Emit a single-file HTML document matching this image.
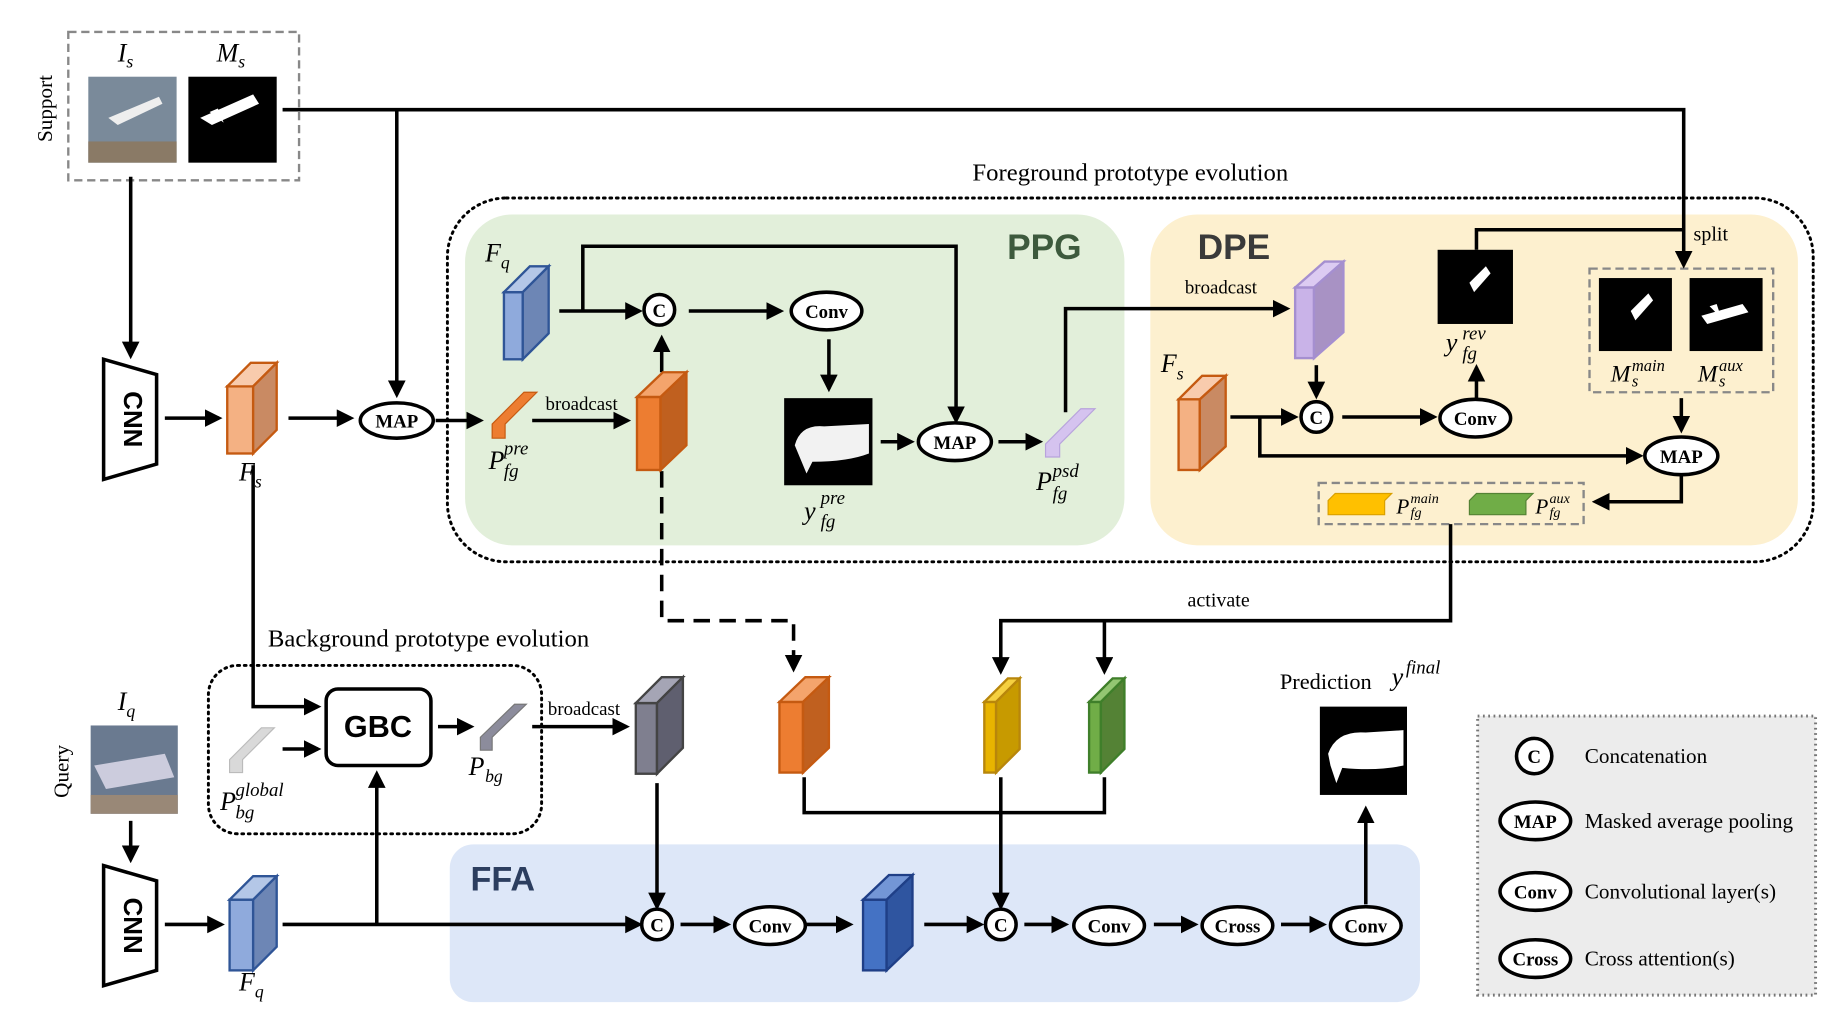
<!DOCTYPE html>
<html><head><meta charset="utf-8"><style>
html,body{margin:0;padding:0;background:#fff;}
svg{display:block;}
text{font-family:"Liberation Serif",serif;}
.b{font-family:"Liberation Sans",sans-serif;font-weight:bold;}
.i{font-style:italic;}
</style></head><body>
<svg width="1845" height="1020" viewBox="0 0 1567 866" xmlns="http://www.w3.org/2000/svg">
<defs>
<marker id="a" markerWidth="5" markerHeight="5" refX="4" refY="2.5" orient="auto" markerUnits="strokeWidth"><path d="M0,0 L5,2.5 L0,5 z" fill="#000"/></marker>
</defs>
<!-- Region boxes -->
<rect x="380" y="168" width="1160" height="309" rx="50" fill="none" stroke="#000" stroke-width="2.5" stroke-dasharray="1.5 4" stroke-linecap="round"/>
<rect x="395" y="182" width="560" height="281" rx="40" fill="#e2efda"/>
<rect x="977" y="182" width="550" height="281" rx="40" fill="#fdf0cf"/>
<rect x="382" y="717" width="824" height="134" rx="20" fill="#dde7f8"/>
<rect x="177" y="565" width="283" height="143" rx="25" fill="none" stroke="#000" stroke-width="2.5" stroke-dasharray="1.5 4" stroke-linecap="round"/>
<rect x="1255" y="608" width="287" height="237" fill="#ececec" stroke="#777" stroke-width="2.5" stroke-dasharray="1.5 3"/>
<rect x="58" y="27" width="196" height="126" fill="none" stroke="#888" stroke-width="2" stroke-dasharray="7 4"/>
<rect x="1350" y="228" width="156" height="105" fill="none" stroke="#888" stroke-width="2" stroke-dasharray="7 4"/>
<rect x="1120" y="410" width="225" height="35" fill="none" stroke="#888" stroke-width="2" stroke-dasharray="7 4"/>

<text x="960" y="153" font-size="21" text-anchor="middle">Foreground prototype evolution</text>
<text x="364" y="549" font-size="21" text-anchor="middle">Background prototype evolution</text>
<text class="b" x="887" y="220" font-size="30" fill="#3d5a3d" text-anchor="middle">PPG</text>
<text class="b" x="1048" y="220" font-size="30" fill="#3a3a3a" text-anchor="middle">DPE</text>
<text class="b" x="427" y="756" font-size="29" fill="#2c3e5f" text-anchor="middle">FFA</text>

<!-- support -->
<text x="44" y="92" font-size="18" text-anchor="middle" transform="rotate(-90 44 92)">Support</text>
<text x="58" y="655" font-size="18" text-anchor="middle" transform="rotate(-90 58 655)">Query</text>
<text class="i" x="100" y="52" font-size="22">I<tspan font-size="15" dy="5">s</tspan></text>
<text class="i" x="184" y="52" font-size="22">M<tspan font-size="15" dy="5">s</tspan></text>
<rect x="75" y="65" width="75" height="73" fill="#7a8a9a"/>
<rect x="75" y="120" width="75" height="18" fill="#8a7a66"/>
<path d="M92,100 L135,82 L138,88 L100,106 z" fill="#eee"/>
<rect x="160" y="65" width="75" height="73" fill="#000"/>
<path d="M170,100 L215,80 L220,88 L180,106 z M178,95 L185,92 L190,104 z" fill="#fff"/>
<rect x="77" y="616" width="74" height="75" fill="#6a7a90"/>
<path d="M80,650 L140,640 L148,660 L90,670 z" fill="#ccd"/>
<rect x="77" y="675" width="74" height="16" fill="#998877"/>

<!-- CNNs -->
<path d="M88,305 L133,318 L133,394 L88,407 z" fill="#fff" stroke="#000" stroke-width="3"/>
<text class="b" x="111" y="356" font-size="22" text-anchor="middle" dominant-baseline="middle" transform="rotate(90 111 356)">CNN</text>
<path d="M88,735 L133,748 L133,824 L88,837 z" fill="#fff" stroke="#000" stroke-width="3"/>
<text class="b" x="111" y="786" font-size="22" text-anchor="middle" dominant-baseline="middle" transform="rotate(90 111 786)">CNN</text>

<!-- connectors -->
<g fill="none" stroke="#000" stroke-width="3">
<path d="M240,93 H1430 V225" marker-end="url(#a)"/>
<path d="M337,93 V335" marker-end="url(#a)"/>
<path d="M111,150 V302" marker-end="url(#a)"/>
<path d="M140,355 H186" marker-end="url(#a)"/>
<path d="M245,355 H298" marker-end="url(#a)"/>
<path d="M370,357 H408" marker-end="url(#a)"/>
<path d="M475,264 H543" marker-end="url(#a)"/>
<path d="M495,264 V209 H812 V357" marker-end="url(#a)"/>
<path d="M585,264 H663" marker-end="url(#a)"/>
<path d="M704,288 V330" marker-end="url(#a)"/>
<path d="M452,357 H533" marker-end="url(#a)"/>
<path d="M562,316 V287" marker-end="url(#a)"/>
<path d="M748,375 H774" marker-end="url(#a)"/>
<path d="M848,375 H883" marker-end="url(#a)"/>
<path d="M905,350 V262 H1093" marker-end="url(#a)"/>
<path d="M1118,310 V336" marker-end="url(#a)"/>
<path d="M1045,354 H1100" marker-end="url(#a)"/>
<path d="M1070,354 V387 H1393" marker-end="url(#a)"/>
<path d="M1140,354 H1218" marker-end="url(#a)"/>
<path d="M1254,338 V312" marker-end="url(#a)"/>
<path d="M1254,212 V195 H1430"/>
<path d="M1428,338 V365" marker-end="url(#a)"/>
<path d="M1428,403 V426 H1355" marker-end="url(#a)"/>
<path d="M1232,445 V527 H850 V570" marker-end="url(#a)"/>
<path d="M938,527 V570" marker-end="url(#a)"/>
<path d="M562,400 V527 H674 V568" stroke-dasharray="14 8" marker-end="url(#a)"/>
<path d="M215,395 V600 H270" marker-end="url(#a)"/>
<path d="M240,636 H270" marker-end="url(#a)"/>
<path d="M372,617 H400" marker-end="url(#a)"/>
<path d="M452,617 H532" marker-end="url(#a)"/>
<path d="M111,697 V730" marker-end="url(#a)"/>
<path d="M140,785 H188" marker-end="url(#a)"/>
<path d="M240,785 H543" marker-end="url(#a)"/>
<path d="M320,785 V657" marker-end="url(#a)"/>
<path d="M558,665 V770" marker-end="url(#a)"/>
<path d="M578,785 H618" marker-end="url(#a)"/>
<path d="M685,785 H722" marker-end="url(#a)"/>
<path d="M785,785 H833" marker-end="url(#a)"/>
<path d="M683,660 V690 H938 V660"/>
<path d="M850,660 V770" marker-end="url(#a)"/>
<path d="M870,785 H905" marker-end="url(#a)"/>
<path d="M980,785 H1015" marker-end="url(#a)"/>
<path d="M1088,785 H1124" marker-end="url(#a)"/>
<path d="M1160,768 V687" marker-end="url(#a)"/>
</g>

<g stroke-width="2">
<g stroke="#c55a11"><rect x="193" y="328" width="22" height="57" fill="#f4b183"/><path d="M193,328 L213,308 L235,308 L215,328 z" fill="#f8cbad"/><path d="M215,328 L235,308 L235,365 L215,385 z" fill="#c98a63"/></g>
<g stroke="#2f5597"><rect x="428" y="248" width="16" height="57" fill="#8faadc"/><path d="M428,248 L450,226 L466,226 L444,248 z" fill="#b4c7e7"/><path d="M444,248 L466,226 L466,283 L444,305 z" fill="#6d86b5"/></g>
<g stroke="#c55a11"><rect x="541" y="337" width="20" height="62" fill="#ed7d31"/><path d="M541,337 L563,316 L583,316 L561,337 z" fill="#f4a46c"/><path d="M561,337 L583,316 L583,378 L561,399 z" fill="#c0601f"/></g>
<g stroke="#a58fd0"><rect x="1100" y="244" width="16" height="60" fill="#c9b3e8"/><path d="M1100,244 L1125,222 L1141,222 L1116,244 z" fill="#dccbf2"/><path d="M1116,244 L1141,222 L1141,282 L1116,304 z" fill="#a892c4"/></g>
<g stroke="#c55a11"><rect x="1001" y="339" width="18" height="60" fill="#f4b183"/><path d="M1001,339 L1021,319 L1041,319 L1019,339 z" fill="#f8cbad"/><path d="M1019,339 L1041,319 L1041,379 L1019,399 z" fill="#c98a63"/></g>
<g stroke="#444"><rect x="540" y="597" width="18" height="60" fill="#7f7f8f"/><path d="M540,597 L562,575 L580,575 L558,597 z" fill="#a5a5b5"/><path d="M558,597 L580,575 L580,635 L558,657 z" fill="#5f5f6f"/></g>
<g stroke="#2f5597"><rect x="195" y="764" width="20" height="60" fill="#8faadc"/><path d="M195,764 L215,744 L235,744 L215,764 z" fill="#b4c7e7"/><path d="M215,764 L235,744 L235,804 L215,824 z" fill="#6d86b5"/></g>
<g stroke="#1f3f87"><rect x="733" y="764" width="20" height="60" fill="#4472c4"/><path d="M733,764 L755,743 L775,743 L753,764 z" fill="#7396d6"/><path d="M753,764 L775,743 L775,803 L753,824 z" fill="#2f55a0"/></g>
<g stroke="#c55a11"><rect x="662" y="596" width="20" height="60" fill="#ed7d31"/><path d="M662,596 L684,575 L704,575 L682,596 z" fill="#f4a46c"/><path d="M682,596 L704,575 L704,635 L682,656 z" fill="#c0601f"/></g>
<g stroke="#b8860b"><rect x="836" y="596" width="10" height="60" fill="#e8b400"/><path d="M836,596 L856,576 L866,576 L846,596 z" fill="#f5d040"/><path d="M846,596 L866,576 L866,636 L846,656 z" fill="#c79a00"/></g>
<g stroke="#3f7f2a"><rect x="925" y="596" width="10" height="60" fill="#70ad47"/><path d="M925,596 L945,576 L955,576 L935,596 z" fill="#93c572"/><path d="M935,596 L955,576 L955,636 L935,656 z" fill="#548235"/></g>
</g>
<path d="M418,360 L445,333 L456,333 L429,360 L429,372 L418,372 z" fill="#ed7d31" stroke="#c55a11"/>
<path d="M888,377 L918,347 L930,347 L900,377 L900,388 L888,388 z" fill="#d5c3ef" stroke="#b8a3dc"/>
<path d="M195,645 L222,618 L233,618 L206,645 L206,656 L195,656 z" fill="#d9d9d9" stroke="#bbb"/>
<path d="M408,626 L437,598 L447,598 L418,626 L418,637 L408,637 z" fill="#8c8c9c" stroke="#777"/>
<path d="M1128,425 L1134,419 L1182,419 L1176,425 L1176,437 L1128,437 z" fill="#ffc000" stroke="#d9a000"/>
<path d="M1248,425 L1254,419 L1302,419 L1296,425 L1296,437 L1248,437 z" fill="#70ad47" stroke="#548235"/>

<rect x="666" y="338" width="75" height="74" fill="#000"/>
<path d="M675,378 Q680,360 700,362 L738,360 L738,385 Q720,392 690,392 L685,402 L680,390 z" fill="#fff" opacity="0.95"/>
<rect x="1221" y="212" width="64" height="63" fill="#000"/>
<path d="M1248,240 L1262,226 L1266,232 L1252,248 z" fill="#fff"/>
<rect x="1358" y="236" width="62" height="62" fill="#000"/>
<path d="M1385,264 L1400,249 L1404,255 L1389,272 z" fill="#fff"/>
<rect x="1435" y="236" width="62" height="62" fill="#000"/>
<path d="M1445,268 L1480,258 L1485,265 L1450,275 z M1452,260 L1458,258 L1462,270 z" fill="#fff"/>
<rect x="1121" y="600" width="74" height="75" fill="#000"/>
<path d="M1128,640 Q1135,620 1160,622 L1192,620 L1192,650 Q1170,655 1140,652 L1135,665 L1130,650 z" fill="#fff"/>

<g fill="#fff" stroke="#000" stroke-width="3">
<circle cx="560" cy="263" r="13"/>
<circle cx="1118" cy="354" r="13"/>
<circle cx="558" cy="785" r="13"/>
<circle cx="850" cy="785" r="13"/>
<ellipse cx="337" cy="357" rx="31" ry="15"/>
<ellipse cx="811" cy="375" rx="31" ry="16"/>
<ellipse cx="1428" cy="387" rx="31" ry="16"/>
<ellipse cx="702" cy="264" rx="30" ry="16"/>
<ellipse cx="1253" cy="355" rx="30" ry="16"/>
<ellipse cx="654" cy="786" rx="30" ry="16"/>
<ellipse cx="942" cy="786" rx="30" ry="16"/>
<ellipse cx="1051" cy="786" rx="30" ry="16"/>
<ellipse cx="1160" cy="786" rx="30" ry="16"/>
<rect x="277" y="585" width="89" height="65" rx="10"/>
<circle cx="1303" cy="642" r="15"/>
<ellipse cx="1304" cy="697" rx="30" ry="16"/>
<ellipse cx="1304" cy="757" rx="30" ry="16"/>
<ellipse cx="1304" cy="814" rx="30" ry="16"/>
</g>
<g font-weight="bold" text-anchor="middle" font-size="16">
<text x="560" y="269">C</text><text x="1118" y="360">C</text><text x="558" y="791">C</text><text x="850" y="791">C</text>
<text x="337" y="363">MAP</text><text x="811" y="381">MAP</text><text x="1428" y="393">MAP</text>
<text x="702" y="270">Conv</text><text x="1253" y="361">Conv</text><text x="654" y="792">Conv</text><text x="942" y="792">Conv</text>
<text x="1051" y="792">Cross</text><text x="1160" y="792">Conv</text>
<text x="1303" y="648">C</text><text x="1304" y="703">MAP</text><text x="1304" y="763">Conv</text><text x="1304" y="820">Cross</text>
</g>
<text class="b" x="321" y="626" font-size="26" text-anchor="middle">GBC</text>

<g font-size="18"><text x="1346" y="648">Concatenation</text><text x="1346" y="703">Masked average pooling</text><text x="1346" y="763">Convolutional layer(s)</text><text x="1346" y="820">Cross attention(s)</text></g>

<g font-size="16"><text x="494" y="348" text-anchor="middle">broadcast</text><text x="1037" y="249" text-anchor="middle">broadcast</text><text x="496" y="607" text-anchor="middle">broadcast</text>
<text x="1453" y="204" text-anchor="middle" font-size="17">split</text><text x="1035" y="515" text-anchor="middle" font-size="17">activate</text></g>
<text x="1087" y="585" font-size="19">Prediction</text>
<g class="i" font-size="22">
<text x="412" y="222">F<tspan font-size="15" dy="6">q</tspan></text>
<text x="203" y="408">F<tspan font-size="15" dy="6">s</tspan></text>
<text x="986" y="316">F<tspan font-size="15" dy="6">s</tspan></text>
<text x="203" y="841">F<tspan font-size="15" dy="6">q</tspan></text>
<text x="100" y="603">I<tspan font-size="15" dy="6">q</tspan></text>
<text x="415" y="398">P</text><text x="428" y="386" font-size="16">pre</text><text x="428" y="405" font-size="16">fg</text>
<text x="683" y="441">y</text><text x="697" y="428" font-size="16">pre</text><text x="697" y="448" font-size="16">fg</text>
<text x="880" y="416">P</text><text x="894" y="405" font-size="16">psd</text><text x="894" y="424" font-size="16">fg</text>
<text x="1228" y="298">y</text><text x="1242" y="288" font-size="16">rev</text><text x="1242" y="305" font-size="16">fg</text>
<text x="1368" y="324" font-size="20">M</text><text x="1386" y="315" font-size="14">main</text><text x="1386" y="328" font-size="14">s</text>
<text x="1442" y="324" font-size="20">M</text><text x="1460" y="315" font-size="14">aux</text><text x="1460" y="328" font-size="14">s</text>
<text x="1186" y="436" font-size="18">P</text><text x="1198" y="427" font-size="12">main</text><text x="1198" y="439" font-size="12">fg</text>
<text x="1304" y="436" font-size="18">P</text><text x="1316" y="427" font-size="12">aux</text><text x="1316" y="439" font-size="12">fg</text>
<text x="187" y="688">P</text><text x="200" y="676" font-size="16">global</text><text x="200" y="695" font-size="16">bg</text>
<text x="398" y="658">P</text><text x="412" y="664" font-size="15">bg</text>
<text x="1182" y="582">y</text><text x="1194" y="572" font-size="16">final</text>
</g>
</svg>
</body></html>
